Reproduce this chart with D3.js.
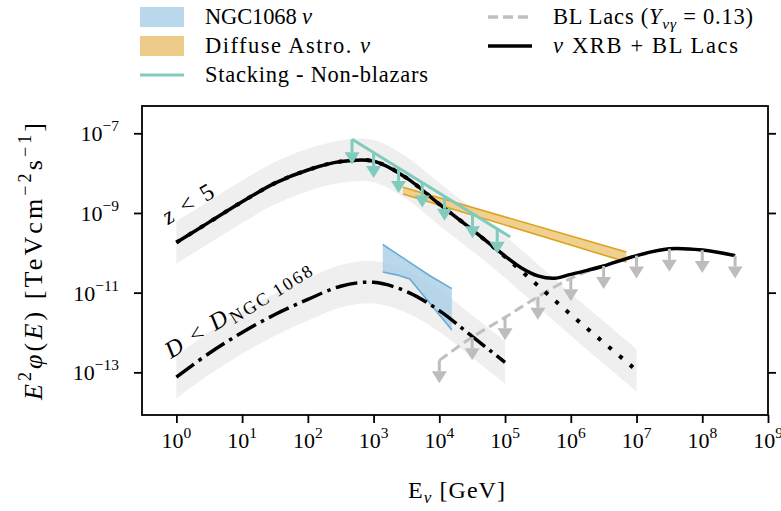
<!DOCTYPE html>
<html>
<head>
<meta charset="utf-8">
<script src="https://cdn.jsdelivr.net/npm/d3@7"></script>
<style>
  body { margin: 0; background: #fff; }
  svg text { font-family: "Liberation Serif", "Times New Roman", serif; fill: #000; }
</style>
</head>
<body>
<svg id="chart" width="781" height="511"></svg>
<script>
// energies in GeV, fluxes E^2 phi in TeV cm^-2 s^-1
const xrbEnergy = [1, 3.16, 10, 31.6, 100, 316, 1e3, 3.16e3, 1e4, 3.16e4, 1e5, 3.16e5, 1e6, 3.16e6, 1e7];
const xrbFlux = [1.82e-10, 5.89e-10, 1.91e-9, 5.62e-9, 1.2e-8, 1.95e-8, 2.0e-8, 7.59e-9, 1.66e-9, 3.8e-10, 7.94e-11, 1.51e-11, 2.82e-12, 5.62e-13, 1.12e-13];

const totalEnergy = [1, 3.16, 10, 31.6, 100, 316, 1e3, 3.16e3, 1e4, 3.16e4, 1e5, 1.78e5, 3.16e5, 5.62e5, 1e6, 1.78e6, 3.16e6, 1e7, 3.16e7, 1e8, 3.16e8];
const totalFlux = [1.82e-10, 5.89e-10, 1.91e-9, 5.62e-9, 1.2e-8, 1.95e-8, 2.0e-8, 7.59e-9, 1.66e-9, 3.8e-10, 8.3e-11, 4.17e-11, 2.63e-11, 2.29e-11, 2.88e-11, 3.63e-11, 4.68e-11, 8.51e-11, 1.26e-10, 1.17e-10, 8.51e-11];

const ngcDistEnergy = [1, 3.16, 10, 31.6, 100, 316, 1e3, 3.16e3, 1e4, 3.16e4, 1e5];
const ngcDistFlux = [7.59e-14, 3.02e-13, 1.0e-12, 2.82e-12, 6.76e-12, 1.45e-11, 1.82e-11, 1.07e-11, 3.55e-12, 7.94e-13, 1.78e-13];

const bandFactor = 3.4;

const blLacEnergy = [1e4, 3.16e4, 1e5, 3.16e5, 1e6, 3.16e6, 1e7, 3.16e7, 1e8, 3.16e8];
const blLacFlux = [2.0e-13, 7.6e-13, 2.4e-12, 7.9e-12, 2.29e-11, 4.68e-11, 8.51e-11, 1.26e-10, 1.17e-10, 8.51e-11];

const stackEnergy = [470, 1.2e5];
const stackFlux = [7.1e-8, 2.5e-10];
const stackArrowEnergy = [470, 1.0e3, 2.4e3, 5.5e3, 1.2e4, 3.2e4, 7.6e4];
const stackArrowFlux = [7.1e-8, 3.2e-8, 1.35e-8, 5.8e-9, 2.7e-9, 9.8e-10, 4.0e-10];

const diffuseEnergy = [2.8e3, 7.0e6];
const diffuseUpper = [4.4e-9, 1.05e-10];
const diffuseLower = [3.0e-9, 5.9e-11];

const ngcEnergy = [1.38e3, 2.24e3, 3.55e3, 7.08e3, 1.55e4];
const ngcUpper = [1.62e-10, 9.5e-11, 5.75e-11, 2.69e-11, 1.26e-11];
const ngcLower = [3.3e-11, 2.8e-11, 2.2e-11, 5.6e-12, 1.15e-12];

const xTicks = [1, 10, 100, 1e3, 1e4, 1e5, 1e6, 1e7, 1e8, 1e9];
const xTickExps = ['0', '1', '2', '3', '4', '5', '6', '7', '8', '9'];
const yTicks = [1e-7, 1e-9, 1e-11, 1e-13];
const yTickExps = ['\u22127', '\u22129', '\u221211', '\u221213'];

const zip = (a, b) => a.map((v, i) => [v, b[i]]);

function drawChart() {
  const plotLeft = 142;
  const plotRight = 768;
  const plotTop = 106;
  const plotBottom = 415;

  const svg = d3.select('#chart');
  const x = d3.scaleLog().domain([0.3, 1e9]).range([plotLeft, plotRight]);
  const y = d3.scaleLog().domain([8.5e-15, 4.84e-7]).range([plotBottom, plotTop]);

  svg.append('defs').append('clipPath').attr('id', 'clip')
    .append('rect')
    .attr('x', plotLeft).attr('y', plotTop)
    .attr('width', plotRight - plotLeft).attr('height', plotBottom - plotTop);

  const plot = svg.append('g').attr('clip-path', 'url(#clip)');

  const line = d3.line()
    .x(d => x(d[0]))
    .y(d => y(d[1]))
    .curve(d3.curveCatmullRom);

  const band = d3.area()
    .x(d => x(d[0]))
    .y0(d => y(d[1] / bandFactor))
    .y1(d => y(d[1] * bandFactor))
    .curve(d3.curveCatmullRom);

  // grey uncertainty bands
  plot.append('path').datum(zip(xrbEnergy, xrbFlux))
    .attr('d', band).attr('fill', '#efefef');
  plot.append('path').datum(zip(ngcDistEnergy, ngcDistFlux))
    .attr('d', band).attr('fill', '#efefef');

  // diffuse astrophysical flux
  const diffuse = diffuseEnergy.map((e, i) => [e, diffuseLower[i], diffuseUpper[i]]);
  plot.append('path').datum(diffuse)
    .attr('d', d3.area().x(d => x(d[0])).y0(d => y(d[1])).y1(d => y(d[2])))
    .attr('fill', '#f0d08e');
  [diffuseUpper, diffuseLower].forEach(edge => {
    plot.append('path').datum(zip(diffuseEnergy, edge))
      .attr('d', d3.line().x(d => x(d[0])).y(d => y(d[1])))
      .attr('fill', 'none').attr('stroke', '#dda220').attr('stroke-width', 1.6);
  });

  // NGC 1068 bowtie
  const ngc = ngcEnergy.map((e, i) => [e, ngcLower[i], ngcUpper[i]]);
  plot.append('path').datum(ngc)
    .attr('d', d3.area().x(d => x(d[0])).y0(d => y(d[1])).y1(d => y(d[2])))
    .attr('fill', '#a6cde6').attr('fill-opacity', 0.78);
  [ngcUpper, ngcLower].forEach(edge => {
    plot.append('path').datum(zip(ngcEnergy, edge))
      .attr('d', d3.line().x(d => x(d[0])).y(d => y(d[1])))
      .attr('fill', 'none').attr('stroke', '#6aaad6').attr('stroke-width', 1.6);
  });

  // BL Lacs (under the total)
  plot.append('path').datum(zip(blLacEnergy, blLacFlux))
    .attr('d', line).attr('fill', 'none').attr('stroke', '#c0c0c0')
    .attr('stroke-width', 3).attr('stroke-dasharray', '10,5');

  // model curves
  plot.append('path').datum(zip(xrbEnergy, xrbFlux))
    .attr('d', line).attr('fill', 'none').attr('stroke', '#000')
    .attr('stroke-width', 4).attr('stroke-dasharray', '4,10');
  plot.append('path').datum(zip(totalEnergy, totalFlux))
    .attr('d', line).attr('fill', 'none').attr('stroke', '#000')
    .attr('stroke-width', 3.5);
  plot.append('path').datum(zip(ngcDistEnergy, ngcDistFlux))
    .attr('d', line).attr('fill', 'none').attr('stroke', '#000')
    .attr('stroke-width', 3.5).attr('stroke-dasharray', '22,5.6,3.5,5.6');

  function drawArrows(energies, fluxes, color, len) {
    const headH = 12;
    const headW = 15;
    energies.forEach((e, i) => {
      const ax = x(e);
      const ay = y(fluxes[i]);
      plot.append('line')
        .attr('x1', ax).attr('x2', ax)
        .attr('y1', ay).attr('y2', ay + len - headH)
        .attr('stroke', color).attr('stroke-width', 3);
      plot.append('path')
        .attr('d', `M${ax - headW / 2},${ay + len - headH}L${ax + headW / 2},${ay + len - headH}L${ax},${ay + len}Z`)
        .attr('fill', color);
    });
  }
  drawArrows(blLacEnergy, blLacFlux, '#bdbdbd', 23);

  // stacking limit
  plot.append('path').datum(zip(stackEnergy, stackFlux))
    .attr('d', d3.line().x(d => x(d[0])).y(d => y(d[1])))
    .attr('fill', 'none').attr('stroke', '#80cbbd').attr('stroke-width', 3);
  drawArrows(stackArrowEnergy, stackArrowFlux, '#80cbbd', 25);

  // frame and ticks
  svg.append('g').attr('transform', `translate(0,${plotBottom})`)
    .call(d3.axisBottom(x).tickValues(xTicks).tickSize(8).tickFormat(''))
    .call(g => g.select('.domain').remove());
  svg.append('g').attr('transform', `translate(${plotLeft},0)`)
    .call(d3.axisLeft(y).tickValues(yTicks).tickSize(8).tickFormat(''))
    .call(g => g.select('.domain').remove());
  svg.append('g').attr('transform', `translate(${plotRight},0)`)
    .call(d3.axisRight(y).tickValues(yTicks).tickSize(8).tickFormat(''))
    .call(g => g.select('.domain').remove());
  svg.selectAll('.tick line').attr('stroke', '#000').attr('stroke-width', 1.8);

  svg.append('rect')
    .attr('x', plotLeft).attr('y', plotTop)
    .attr('width', plotRight - plotLeft).attr('height', plotBottom - plotTop)
    .attr('fill', 'none').attr('stroke', '#000').attr('stroke-width', 1.8);

  // tick labels
  xTicks.forEach((t, i) => {
    const label = svg.append('text')
      .attr('x', x(t)).attr('y', 448)
      .attr('text-anchor', 'middle').attr('font-size', 22);
    label.append('tspan').text('10');
    label.append('tspan').attr('dy', -10).attr('font-size', 15.5).text(xTickExps[i]);
  });
  yTicks.forEach((t, i) => {
    const label = svg.append('text')
      .attr('x', 119).attr('y', y(t) + 8)
      .attr('text-anchor', 'end').attr('font-size', 22);
    label.append('tspan').text('10');
    label.append('tspan').attr('dy', -10).attr('font-size', 15.5).text(yTickExps[i]);
  });

  // axis titles
  const xTitle = svg.append('text')
    .attr('x', 408).attr('y', 498)
    .attr('font-size', 24)
    .attr('textLength', 97).attr('lengthAdjust', 'spacing');
  xTitle.append('tspan').text('E');
  xTitle.append('tspan').attr('dy', 5).attr('font-size', 17).attr('font-style', 'italic').text('\u03bd');
  xTitle.append('tspan').attr('dy', -5).text(' [GeV]');

  const yTitle = svg.append('text')
    .attr('transform', 'translate(42,400) rotate(-90)')
    .attr('font-size', 26)
    .attr('textLength', 277).attr('lengthAdjust', 'spacing');
  yTitle.append('tspan').attr('font-style', 'italic').text('E');
  yTitle.append('tspan').attr('dy', -11).attr('font-size', 18).text('2');
  yTitle.append('tspan').attr('dy', 11).attr('font-style', 'italic').text('\u03c6');
  yTitle.append('tspan').text('(');
  yTitle.append('tspan').attr('font-style', 'italic').text('E');
  yTitle.append('tspan').text(') [TeVcm');
  yTitle.append('tspan').attr('dy', -11).attr('font-size', 18).text('\u22122');
  yTitle.append('tspan').attr('dy', 11).text('s');
  yTitle.append('tspan').attr('dy', -11).attr('font-size', 18).text('\u22121');
  yTitle.append('tspan').attr('dy', 11).text(']');

  // curve annotations
  const zLabel = svg.append('text')
    .attr('transform', 'translate(168,225) rotate(-31)')
    .attr('font-size', 24)
    .attr('textLength', 56).attr('lengthAdjust', 'spacing');
  zLabel.append('tspan').attr('font-style', 'italic').text('z');
  zLabel.append('tspan').text(' < 5');

  const dLabel = svg.append('text')
    .attr('transform', 'translate(171,359) rotate(-32)')
    .attr('font-size', 24)
    .attr('textLength', 166).attr('lengthAdjust', 'spacing');
  dLabel.append('tspan').attr('font-style', 'italic').text('D');
  dLabel.append('tspan').text(' < ');
  dLabel.append('tspan').attr('font-style', 'italic').text('D');
  dLabel.append('tspan').attr('dy', 4).attr('font-size', 18).text('NGC\u20091068');

  // legend
  const legend = svg.append('g');
  const rowY = [17, 46, 75];
  legend.append('rect').attr('x', 140).attr('y', rowY[0] - 10).attr('width', 44).attr('height', 20)
    .attr('fill', '#a6cde6').attr('fill-opacity', 0.78);
  legend.append('rect').attr('x', 140).attr('y', rowY[1] - 10).attr('width', 44).attr('height', 20)
    .attr('fill', '#eccc88');
  legend.append('line').attr('x1', 140).attr('x2', 184).attr('y1', rowY[2]).attr('y2', rowY[2])
    .attr('stroke', '#80cbbd').attr('stroke-width', 3);
  legend.append('line').attr('x1', 488).attr('x2', 532).attr('y1', rowY[0]).attr('y2', rowY[0])
    .attr('stroke', '#c0c0c0').attr('stroke-width', 3.5).attr('stroke-dasharray', '10,5');
  legend.append('line').attr('x1', 488).attr('x2', 532).attr('y1', rowY[1]).attr('y2', rowY[1])
    .attr('stroke', '#000').attr('stroke-width', 3.5);

  function legendText(lx, ly, width) {
    return legend.append('text').attr('x', lx).attr('y', ly + 7).attr('font-size', 22.5)
      .attr('textLength', width).attr('lengthAdjust', 'spacing');
  }
  const t1 = legendText(205, rowY[0], 107);
  t1.append('tspan').text('NGC1068 ');
  t1.append('tspan').attr('font-style', 'italic').text('\u03bd');
  const t2 = legendText(205, rowY[1], 165);
  t2.append('tspan').text('Diffuse Astro. ');
  t2.append('tspan').attr('font-style', 'italic').text('\u03bd');
  legendText(205, rowY[2], 223).text('Stacking - Non-blazars');
  const t4 = legendText(553, rowY[0], 200);
  t4.append('tspan').text('BL Lacs (');
  t4.append('tspan').attr('font-style', 'italic').text('Y');
  t4.append('tspan').attr('dy', 5).attr('font-size', 15.5).attr('font-style', 'italic').text('\u03bd\u03b3');
  t4.append('tspan').attr('dy', -5).text(' = 0.13)');
  const t5 = legendText(553, rowY[1], 185);
  t5.append('tspan').attr('font-style', 'italic').text('\u03bd');
  t5.append('tspan').text(' XRB + BL Lacs');
}

window.addEventListener('load', function() {
  drawChart();
});
</script>
</body>
</html>
